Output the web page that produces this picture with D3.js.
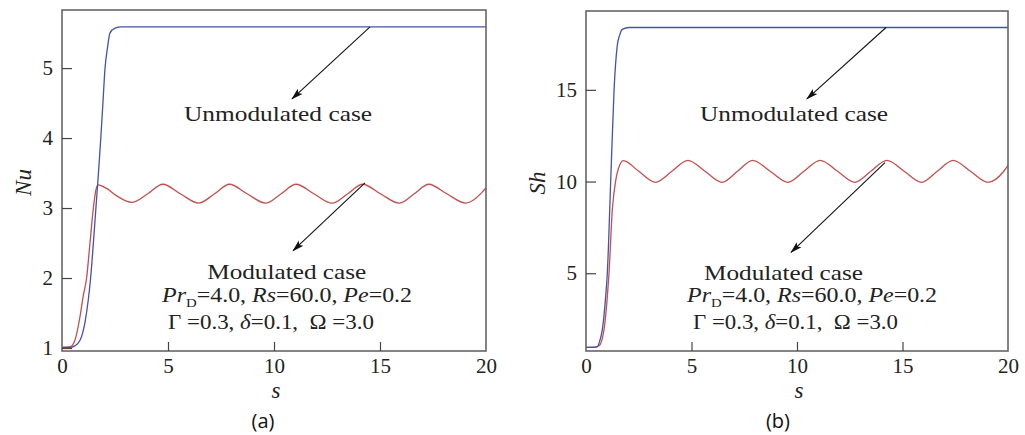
<!DOCTYPE html>
<html>
<head>
<meta charset="utf-8">
<script src="https://cdn.jsdelivr.net/npm/d3@7"></script>
<style>
  html, body { margin: 0; padding: 0; background: #fff; }
  svg { display: block; }
</style>
</head>
<body>
<svg id="chart" width="1025" height="435"></svg>
<script>
// ---- data ----
// (a) Nusselt number
const sNuUnmod = [0, 0.4, 0.6, 0.85, 1.08, 1.24, 1.35, 1.48, 1.6, 1.72, 1.83, 1.93, 2.03, 2.15, 2.26, 2.5, 2.8, 20];
const nuUnmod  = [1.01, 1.01, 1.03, 1.11, 1.36, 1.69, 2.0, 2.5, 3.0, 3.5, 4.0, 4.5, 5.0, 5.3, 5.5, 5.57, 5.59, 5.59];

const sNuMod = [0, 0.4, 0.61, 0.85, 1.0, 1.16, 1.32, 1.48, 1.6, 1.71, 2.1, 2.6, 3.29, 4.03, 4.76, 5.6, 6.45, 7.18, 7.9,
                8.75, 9.6, 10.32, 11.04, 11.9, 12.74, 13.46, 14.18, 15.04, 15.9, 16.6, 17.3, 18.17, 19.04, 19.8, 20];
const nuMod  = [1.01, 1.02, 1.11, 1.45, 1.74, 2.0, 2.5, 3.0, 3.26, 3.33, 3.28, 3.17, 3.08, 3.2, 3.34, 3.2, 3.07, 3.2, 3.34,
                3.2, 3.07, 3.2, 3.34, 3.2, 3.07, 3.2, 3.34, 3.2, 3.07, 3.2, 3.34, 3.2, 3.07, 3.22, 3.29];

// (b) Sherwood number
const sShUnmod = [0, 0.4, 0.54, 0.65, 0.77, 0.93, 1.01, 1.17, 1.33, 1.48, 1.6, 1.72, 2.04, 20];
const shUnmod  = [0.96, 0.96, 1.0, 1.3, 1.9, 3.7, 5.0, 10.0, 15.0, 17.4, 18.0, 18.3, 18.4, 18.4];

const sShMod = [0, 0.4, 0.62, 0.85, 1.01, 1.09, 1.25, 1.4, 1.48, 1.6, 1.77, 2.5, 3.3, 4.07, 4.83, 5.64, 6.45,
                7.18, 7.9, 8.73, 9.57, 10.33, 11.1, 11.92, 12.74, 13.5, 14.26, 15.08, 15.9, 16.65, 17.4, 18.22, 19.05, 19.8, 20];
const shMod  = [0.96, 0.97, 1.05, 1.9, 3.7, 5.0, 8.5, 10.0, 10.47, 10.9, 11.14, 10.56, 9.96, 10.56, 11.16, 10.56, 9.96,
                10.56, 11.16, 10.56, 9.96, 10.56, 11.16, 10.56, 9.96, 10.56, 11.16, 10.56, 9.96, 10.56, 11.16, 10.56, 9.96, 10.56, 10.88];

const xTicks = [0, 5, 10, 15, 20];
const nuTicks = [1, 2, 3, 4, 5];
const shTicks = [5, 10, 15];

const BLUE = '#4453a6';
const RED = '#c2504e';
const SERIF = '"Liberation Serif", "DejaVu Serif", serif';

const svg = d3.select('#chart');

svg.append('defs').append('marker')
  .attr('id', 'arrow')
  .attr('viewBox', '0 -5 12 10')
  .attr('refX', 11).attr('refY', 0)
  .attr('markerWidth', 12).attr('markerHeight', 10)
  .attr('markerUnits', 'userSpaceOnUse')
  .attr('orient', 'auto')
  .append('path')
  .attr('d', 'M0,-3.5L12,0L0,3.5L2.5,0Z')
  .attr('fill', '#111');

function serifText(sel, size) {
  return sel.attr('font-family', SERIF).attr('font-size', size).attr('fill', '#222');
}

// the original is set in a wider serif than Times, so stretch a little to its width
function stretch(sel, w) {
  return sel.attr('textLength', w).attr('lengthAdjust', 'spacingAndGlyphs');
}

function drawPanel(p) {
  const x = d3.scaleLinear().domain([0, 20]).range([p.left, p.right]);
  const y = d3.scaleLinear().domain(p.yDomain).range([p.bottom, p.top]);
  const g = svg.append('g');

  const line = d3.line().x(d => x(d[0])).y(d => y(d[1])).curve(d3.curveMonotoneX);

  // curves
  p.series.forEach(s => {
    g.append('path')
      .datum(s.xs.map((v, i) => [v, s.ys[i]]))
      .attr('d', line)
      .attr('fill', 'none')
      .attr('stroke', s.color)
      .attr('stroke-width', 1.3);
  });

  // frame
  g.append('rect')
    .attr('x', p.left).attr('y', p.top)
    .attr('width', p.right - p.left).attr('height', p.bottom - p.top)
    .attr('fill', 'none').attr('stroke', '#666').attr('stroke-width', 1.6);

  // inward ticks
  const xAxis = g.append('g').attr('transform', `translate(0,${p.bottom})`)
    .call(d3.axisBottom(x).tickValues(xTicks).tickSize(-9).tickPadding(7).tickFormat(d3.format('d')));
  xAxis.attr('font-family', null);
  xAxis.select('.domain').remove();
  xAxis.selectAll('line').attr('stroke', '#444').attr('stroke-width', 1.2)
    .filter(d => d === 0 || d === 20).remove();
  serifText(xAxis.selectAll('text'), 21);

  const yAxis = g.append('g').attr('transform', `translate(${p.left},0)`)
    .call(d3.axisLeft(y).tickValues(p.yTicks).tickSize(-10).tickPadding(9).tickFormat(d3.format('d')));
  yAxis.attr('font-family', null);
  yAxis.select('.domain').remove();
  yAxis.selectAll('line').attr('stroke', '#444').attr('stroke-width', 1.2);
  serifText(yAxis.selectAll('text'), 21);

  // axis titles
  serifText(g.append('text'), 23)
    .attr('x', (p.left + p.right) / 2 + 2).attr('y', 398)
    .attr('text-anchor', 'middle').attr('font-style', 'italic')
    .text('s');
  serifText(g.append('text'), 23)
    .attr('transform', `translate(${p.yTitleX},${(p.top + p.bottom) / 2 + 2}) rotate(-90)`)
    .attr('text-anchor', 'middle').attr('font-style', 'italic')
    .text(p.yTitle);

  // panel tag
  g.append('text')
    .attr('x', p.tagX).attr('y', 428)
    .attr('text-anchor', 'middle')
    .attr('font-family', '"Open Sans", "Liberation Sans", sans-serif')
    .attr('font-size', 20).attr('fill', '#111')
    .text(p.tag);

  // arrows
  p.arrows.forEach(a => {
    g.append('line')
      .attr('x1', x(a.from[0])).attr('y1', y(a.from[1]))
      .attr('x2', x(a.to[0])).attr('y2', y(a.to[1]))
      .attr('stroke', '#111').attr('stroke-width', 1.1)
      .attr('marker-end', 'url(#arrow)');
  });

  // labels
  p.labels.forEach(l => {
    stretch(serifText(g.append('text'), 22), l.w)
      .attr('x', x(l.at[0])).attr('y', y(l.at[1]))
      .attr('text-anchor', 'middle')
      .text(l.text);
  });

  // parameter lines
  const t1 = stretch(serifText(g.append('text'), 21), p.param1[2])
    .attr('x', x(p.param1[0])).attr('y', y(p.param1[1]));
  t1.append('tspan').attr('font-style', 'italic').text('Pr');
  t1.append('tspan').attr('font-size', 13).attr('dy', 5).text('D');
  t1.append('tspan').attr('dy', -5).text('=4.0, ');
  t1.append('tspan').attr('font-style', 'italic').text('Rs');
  t1.append('tspan').text('=60.0, ');
  t1.append('tspan').attr('font-style', 'italic').text('Pe');
  t1.append('tspan').text('=0.2');

  const t2 = stretch(serifText(g.append('text'), 21), p.param2[2])
    .attr('x', x(p.param2[0])).attr('y', y(p.param2[1]))
    .attr('xml:space', 'preserve');
  t2.append('tspan').text('Γ =0.3, ');
  t2.append('tspan').attr('font-style', 'italic').text('δ');
  t2.append('tspan').text('=0.1,  Ω =3.0');
}

drawPanel({
  left: 62, right: 486, top: 10, bottom: 351,
  yDomain: [0.957, 5.83], yTicks: nuTicks, yTitle: 'Nu', yTitleX: 31, tag: '(a)', tagX: 263,
  series: [
    { xs: sNuMod, ys: nuMod, color: RED },
    { xs: sNuUnmod, ys: nuUnmod, color: BLUE }
  ],
  arrows: [
    { from: [14.53, 5.59], to: [10.85, 4.56] },
    { from: [14.29, 3.36], to: [10.9, 2.39] }
  ],
  labels: [
    { text: 'Unmodulated case', at: [10.19, 4.24], w: 188 },
    { text: 'Modulated case', at: [10.6, 1.98], w: 159 }
  ],
  param1: [4.72, 1.66, 250],
  param2: [5.0, 1.27, 206]
});

drawPanel({
  left: 586, right: 1008, top: 11, bottom: 351,
  yDomain: [0.76, 19.3], yTicks: shTicks, yTitle: 'Sh', yTitleX: 545, tag: '(b)', tagX: 778,
  series: [
    { xs: sShMod, ys: shMod, color: RED },
    { xs: sShUnmod, ys: shUnmod, color: BLUE }
  ],
  arrows: [
    { from: [14.22, 18.4], to: [10.47, 14.51] },
    { from: [14.17, 11.03], to: [9.72, 6.14] }
  ],
  labels: [
    { text: 'Unmodulated case', at: [9.86, 13.3], w: 188 },
    { text: 'Modulated case', at: [9.36, 4.62], w: 159 }
  ],
  param1: [4.79, 3.42, 250],
  param2: [5.07, 1.96, 205]
});
</script>
</body>
</html>
